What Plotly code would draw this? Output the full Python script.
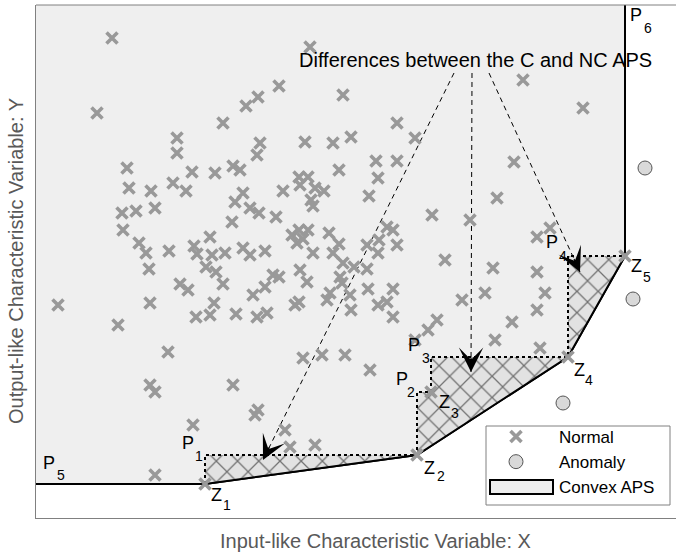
import plotly.graph_objects as go

# ---------------- data (chart units: X to the right, Y upward) ----------------
normal_x = [223, 397, 177, 177, 260, 257, 305, 333, 351, 127, 192, 215, 233, 240, 339, 376, 397,
            129, 151, 173, 186, 155, 136, 122, 123, 283, 299, 308, 300, 315, 324, 311, 313, 378,
            369, 243, 235, 250, 259, 276, 232, 139, 146, 149, 169, 210, 194, 197, 212, 206, 216,
            225, 243, 250, 265, 223, 180, 188, 150, 214, 196, 210, 236, 253, 265, 273, 279, 300,
            307, 267, 257, 295, 299, 292, 299, 308, 297, 303, 313, 329, 339, 333, 343, 354, 367,
            340, 342, 330, 327, 350, 351, 368, 378, 387, 393, 367, 379, 378, 387, 393, 397, 393,
            112, 310, 97, 246, 258, 279, 343, 523, 583, 58, 118, 168, 150, 155, 193, 155, 258,
            255, 303, 322, 345, 285, 290, 315, 514, 497, 550, 537, 537, 545, 493, 485, 462, 437,
            428, 415, 495, 512, 537, 540, 432, 445, 470, 415, 233, 370]
normal_y = [395, 395, 380, 365, 375, 363, 376, 375, 381, 350, 346, 345, 352, 348, 348, 357, 357,
            330, 327, 335, 327, 310, 307, 305, 288, 327, 341, 341, 333, 330, 327, 318, 312, 340,
            322, 325, 316, 310, 305, 301, 296, 275, 265, 249, 267, 281, 272, 264, 263, 251, 246,
            265, 270, 263, 267, 234, 234, 228, 215, 215, 201, 203, 204, 223, 231, 243, 241, 248,
            236, 205, 201, 213, 216, 283, 288, 288, 275, 279, 265, 285, 274, 265, 255, 251, 249,
            241, 235, 225, 218, 223, 208, 229, 213, 216, 229, 273, 278, 265, 291, 288, 273, 201,
            480, 471, 405, 412, 421, 432, 423, 438, 410, 213, 193, 166, 133, 126, 93, 43, 108,
            103, 160, 163, 163, 88, 71, 73, 356, 320, 290, 281, 246, 225, 250, 225, 218, 198,
            188, 178, 178, 196, 208, 170, 303, 258, 298, 380, 133, 148]

anomaly_x = [645, 633, 563]
anomaly_y = [350, 219, 115]

# Normal points that define the APS boundary (Z1..Z5)
z_names = ["Z1", "Z2", "Z3", "Z4", "Z5"]
z_x = [205, 417, 431, 568, 625]
z_y = [34, 63, 126, 161, 262]

# Step (non-convex) APS corner points P1..P4
p_names = ["P1", "P2", "P3", "P4"]
p_x = [205, 417, 431, 568]
p_y = [63, 126, 161, 262]

x_range = [36, 676]
y_range = [0, 513]

arrow_starts_x = [454, 472, 489]
arrow_starts_y = [445, 445, 445]
arrow_tips_x = [263, 471, 580]
arrow_tips_y = [58, 146, 246]

legend_names = ["Normal", "Anomaly", "Convex APS"]

FONT = "Liberation Sans, Arial, sans-serif"
GRAY_X = "#999999"

fig = go.Figure()

# ---- convex APS (light gray region above the convex lower boundary) ----
hull_idx = [0, 1, 3, 4]
big_x_lo = x_range[0] - 20
big_y_hi = y_range[1] + 20
aps_x = [big_x_lo] + [z_x[i] for i in hull_idx] + [z_x[4], big_x_lo, big_x_lo]
aps_y = [z_y[0]] + [z_y[i] for i in hull_idx] + [big_y_hi, big_y_hi, z_y[0]]
fig.add_trace(go.Scatter(
    x=aps_x, y=aps_y, mode="lines", fill="toself", fillcolor="#efefef",
    line=dict(color="black", width=2), showlegend=False, hoverinfo="skip"))

# ---- hatched difference region between step APS and convex APS ----
step_x, step_y = [z_x[0]], [z_y[0]]
for i in range(4):
    step_x += [p_x[i], z_x[i + 1]]
    step_y += [p_y[i], z_y[i + 1]]
hatch_x = step_x + [z_x[3], z_x[1], z_x[0]]
hatch_y = step_y + [z_y[3], z_y[1], z_y[0]]
fig.add_trace(go.Scatter(
    x=hatch_x, y=hatch_y, mode="lines", fill="toself", fillcolor="#e2e2e2",
    fillpattern=dict(shape="x", size=15, solidity=0.16, fgcolor="black", bgcolor="#e2e2e2"),
    line=dict(width=0, color="rgba(0,0,0,0)"), showlegend=False, hoverinfo="skip"))

# redraw the convex boundary on top of the hatch
fig.add_trace(go.Scatter(
    x=[z_x[i] for i in hull_idx], y=[z_y[i] for i in hull_idx], mode="lines",
    line=dict(color="black", width=2), showlegend=False, hoverinfo="skip"))

# step boundary (dotted)
fig.add_trace(go.Scatter(
    x=step_x, y=step_y, mode="lines",
    line=dict(color="black", width=2, dash="dot"), showlegend=False, hoverinfo="skip"))

# ---- dashed arrows ----
for sx, sy, tx, ty in zip(arrow_starts_x, arrow_starts_y, arrow_tips_x, arrow_tips_y):
    fig.add_trace(go.Scatter(
        x=[sx, tx], y=[sy, ty], mode="lines",
        line=dict(color="black", width=1, dash="5px,4px"), showlegend=False, hoverinfo="skip"))
    dx, dy = sx - tx, sy - ty
    d = (dx * dx + dy * dy) ** 0.5
    fig.add_annotation(x=tx, y=ty, ax=tx + dx * 16 / d, ay=ty + dy * 16 / d,
                       xref="x", yref="y", axref="x", ayref="y", text="",
                       showarrow=True, arrowhead=3, arrowsize=3.4, arrowwidth=1.2,
                       arrowcolor="black")

# ---- scatter points ----
fig.add_trace(go.Scatter(
    x=normal_x + z_x, y=normal_y + z_y, mode="markers", name=legend_names[0], legendrank=1,
    marker=dict(symbol="x-thin", size=11, color=GRAY_X, line=dict(width=3.6, color=GRAY_X))))
fig.add_trace(go.Scatter(
    x=anomaly_x, y=anomaly_y, mode="markers", name=legend_names[1], legendrank=2,
    marker=dict(symbol="circle", size=14, color="#d9d9d9", line=dict(width=1, color="#555555"))))
# legend entry for the convex APS (its swatch is drawn as a shape below)
fig.add_trace(go.Scatter(
    x=[None], y=[None], mode="lines", name=legend_names[2], legendrank=3,
    line=dict(color="rgba(0,0,0,0)", width=0)))

# ---- point labels ----
def label(x, y, letter, digit, ldx, ldy, ddx, ddy):
    fig.add_annotation(x=x, y=y, xref="x", yref="y", text=letter, showarrow=False,
                       xshift=ldx, yshift=-ldy, font=dict(size=18, color="black", family=FONT))
    fig.add_annotation(x=x, y=y, xref="x", yref="y", text=digit, showarrow=False,
                       xshift=ddx, yshift=-ddy, font=dict(size=14, color="black", family=FONT))

p_offsets = [(-17, -12, -6, 1), (-15, -13, -6, 0), (-17, -12, -5, 1), (-16, -14, -5, 0)]
for i in range(4):
    label(p_x[i], p_y[i], "P", p_names[i][1], *p_offsets[i])
z_offsets = [(11, 11, 22, 21), (12, 13, 24, 21), (13, 10, 24, 21), (11, 13, 21, 23), (11, 10, 22, 21)]
for i in range(5):
    label(z_x[i], z_y[i], "Z", z_names[i][1], *z_offsets[i])
label(x_range[0], z_y[0], "P", "5", 13, -21, 25, -9)
label(z_x[4], y_range[1], "P", "6", 11, 10, 23, 23)

fig.add_annotation(x=475, y=458, xref="x", yref="y", text="Differences between the C and NC APS",
                   showarrow=False, font=dict(size=20, color="black", family=FONT))


def px_to_paper_x(p):
    return (p - 36) / 640


def py_to_paper_y(p):
    return (518 - p) / 513


# axis titles
fig.add_annotation(x=px_to_paper_x(375), y=py_to_paper_y(541), xref="paper", yref="paper",
                   xanchor="center", yanchor="middle",
                   text="Input-like Characteristic Variable: X", showarrow=False,
                   font=dict(size=20, color="#595959", family=FONT))
fig.add_annotation(x=px_to_paper_x(16), y=py_to_paper_y(261), xref="paper", yref="paper",
                   xanchor="center", yanchor="middle", textangle=-90,
                   text="Output-like Characteristic Variable: Y", showarrow=False,
                   font=dict(size=20, color="#595959", family=FONT))

# top frame line
fig.add_shape(type="line", xref="paper", yref="paper", x0=0, x1=1, y0=1, y1=1,
              line=dict(color="#808080", width=1))

# legend frame and Convex APS swatch
fig.add_shape(type="rect", xref="paper", yref="paper", layer="above",
              x0=px_to_paper_x(486), x1=px_to_paper_x(670),
              y0=py_to_paper_y(505), y1=py_to_paper_y(426),
              fillcolor="white", line=dict(color="#808080", width=1))
fig.add_shape(type="rect", xref="paper", yref="paper", layer="above",
              x0=px_to_paper_x(490), x1=px_to_paper_x(553),
              y0=py_to_paper_y(494), y1=py_to_paper_y(480),
              fillcolor="#eeeeee", line=dict(color="black", width=2))

fig.update_xaxes(range=x_range, showgrid=False, zeroline=False, showticklabels=False,
                 ticks="", showline=True, linecolor="#808080", linewidth=1)
fig.update_yaxes(range=y_range, showgrid=False, zeroline=False, showticklabels=False,
                 ticks="", showline=True, linecolor="#808080", linewidth=1)

fig.update_layout(
    width=676, height=554, margin=dict(l=36, r=0, t=5, b=36),
    plot_bgcolor="white", paper_bgcolor="white",
    font=dict(family=FONT, size=17, color="black"),
    legend=dict(x=px_to_paper_x(473), y=py_to_paper_y(419), xanchor="left", yanchor="top",
                bgcolor="rgba(0,0,0,0)", borderwidth=0,
                font=dict(size=17, family=FONT), itemwidth=76, tracegroupgap=0),
    showlegend=True,
)

fig.write_html("out.html")
